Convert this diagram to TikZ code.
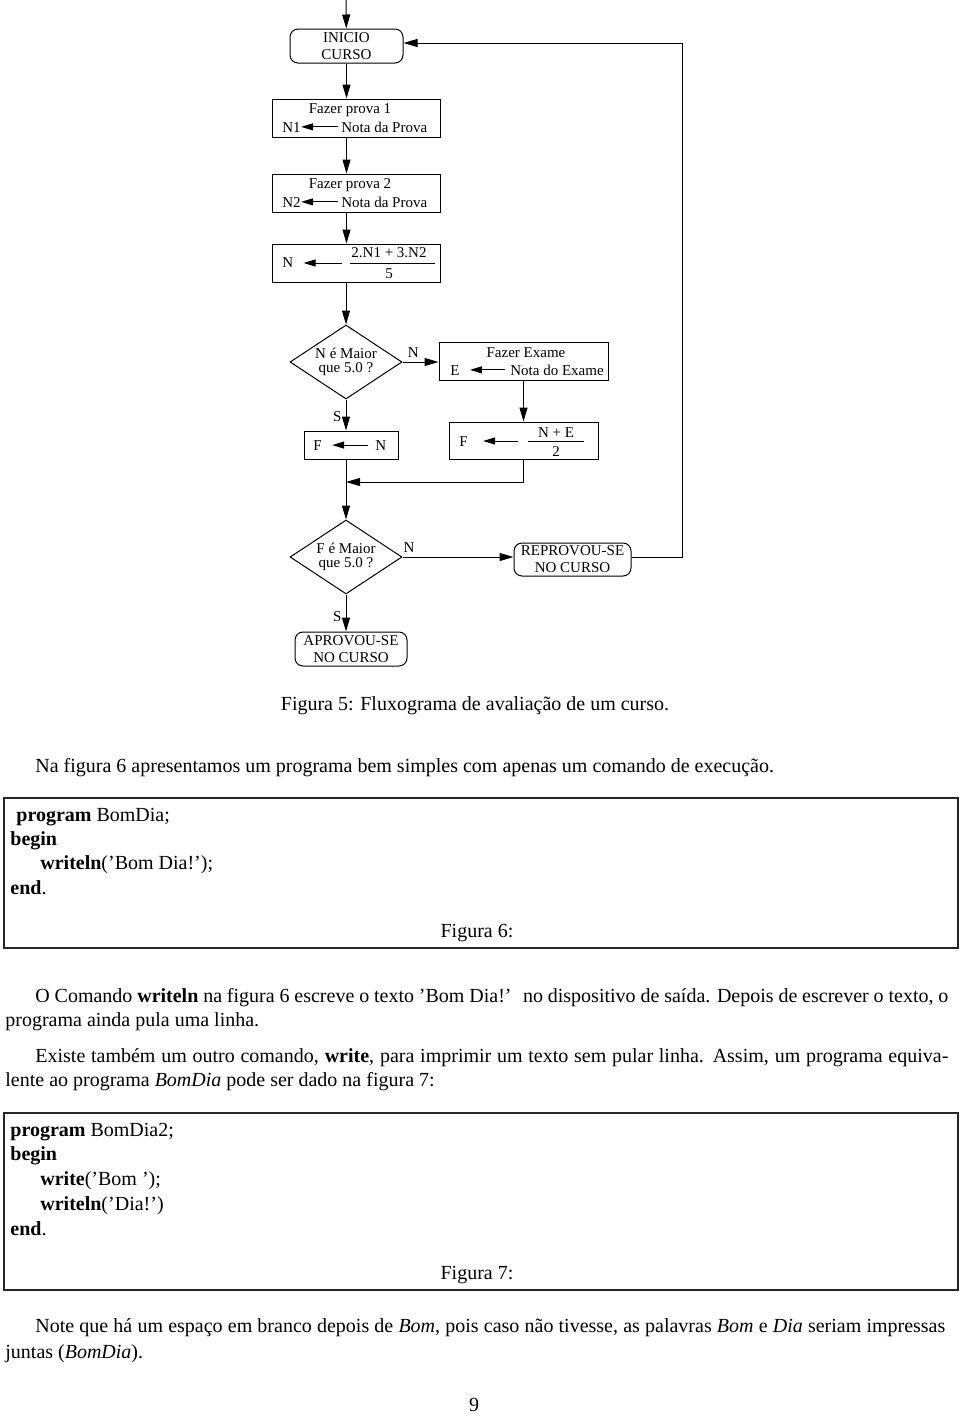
\documentclass[tikz,border=0pt]{standalone}
\usepackage{fontspec}
\setmainfont{Liberation Serif}
\usepackage{tikz}
\usetikzlibrary{positioning, arrows.meta, shapes.geometric}

\newcommand{\fluxo}{\fontsize{7.5}{8.5}\selectfont}
\newcommand{\texto}{\fontsize{10}{12}\selectfont}

\begin{document}
\begin{tikzpicture}[x=0.5pt, y=-0.5pt,
    seta/.style={-{Triangle[length=7pt,width=4pt]}, line width=0.5pt},
    setinha/.style={-{Triangle[length=6pt,width=3.5pt]}, line width=0.5pt},
    caixa/.style={draw, line width=0.5pt, inner sep=0pt},
    arred/.style={draw, line width=0.5pt, rounded corners=4pt, align=center,
      font=\fluxo, inner sep=0pt},
    decisao/.style={draw, diamond, aspect=1.5, line width=0.5pt, inner sep=0pt,
      minimum width=56pt, minimum height=37pt, align=center,
      font=\fontsize{7.5}{7.2}\selectfont},
    rotulo/.style={font=\fluxo, inner sep=0pt, anchor=base},
    linha/.style={font=\texto, inner sep=0pt, anchor=base west},
    quadro/.style={draw=black!85, line width=1pt, inner sep=0pt}]
\useasboundingbox (0,0) rectangle (960,1414);

% Fluxograma
\coordinate (topo) at (346,0);
\node[arred, minimum width=56.5pt, minimum height=17pt] (inicio) at (346.5,46) {INICIO\\CURSO};

\node[caixa, minimum width=84pt, minimum height=19pt] (prova1) at (356,118) {};
\node[rotulo] (fp1) at (350,113) {Fazer prova 1};
\node[rotulo, anchor=base west] (n1) at (282,132) {N1};
\node[rotulo, anchor=base west] (nota1) at (341,132) {Nota da Prova};
\draw[setinha, shorten <=1.5pt] (nota1.west) -- (nota1.west -| n1.east);

\node[caixa, minimum width=84pt, minimum height=19pt] (prova2) at (356,193) {};
\node[rotulo] (fp2) at (350,188) {Fazer prova 2};
\node[rotulo, anchor=base west] (n2) at (282,207) {N2};
\node[rotulo, anchor=base west] (nota2) at (341,207) {Nota da Prova};
\draw[setinha, shorten <=1.5pt] (nota2.west) -- (nota2.west -| n2.east);

\node[caixa, minimum width=84pt, minimum height=19pt] (media) at (356,263) {};
\node[rotulo, anchor=base west] (nmed) at (282,267) {N};
\node[rotulo] (num1) at (389,257) {2.N1 + 3.N2};
\node[rotulo] (den1) at (389,278) {5};
\coordinate (barra1) at (350,263);
\draw[line width=0.5pt] (barra1) -- (435,263);
\draw[setinha, shorten <=4pt, shorten >=5pt] (barra1) -- (barra1 -| nmed.east);

\node[decisao] (dec1) at (346,362) {N é Maior\\que 5.0 ?};

\node[caixa, minimum width=84.5pt, minimum height=19pt] (exame) at (523.5,361) {};
\node[rotulo] (fex) at (526,357) {Fazer Exame};
\node[rotulo, anchor=base west] (ee) at (450,375) {E};
\node[rotulo, anchor=base west] (notaex) at (510,375) {Nota do Exame};
\draw[setinha, shorten <=2.5pt, shorten >=5pt] (notaex.west) -- (notaex.west -| ee.east);

\node[caixa, minimum width=74.5pt, minimum height=18.5pt] (final) at (523.5,440.5) {};
\node[rotulo, anchor=base west] (ff) at (459,446) {F};
\node[rotulo] (num2) at (556,437) {N + E};
\node[rotulo] (den2) at (556,456) {2};
\coordinate (barra2) at (528,441);
\draw[line width=0.5pt] (barra2) -- (584,441);
\draw[setinha, shorten <=5pt, shorten >=7.5pt] (barra2) -- (barra2 -| ff.east);

\node[caixa, minimum width=47pt, minimum height=14pt] (copia) at (351,445) {};
\node[rotulo, anchor=base west] (fc) at (313,450) {F};
\node[rotulo, anchor=base west] (nc) at (375,450) {N};
\draw[setinha, shorten <=3.5pt, shorten >=5pt] (nc.west) -- (nc.west -| fc.east);

\node[decisao] (dec2) at (346,557) {F é Maior\\que 5.0 ?};

\node[arred, minimum width=58.5pt, minimum height=16.5pt] (reprovou) at (572.5,559.5) {REPROVOU-SE\\NO CURSO};
\node[arred, minimum width=56pt, minimum height=17pt] (aprovou) at (351,649) {APROVOU-SE\\NO CURSO};
\coordinate (junta) at (346,482);

% Ligacoes
\draw[seta] (topo) -- (inicio);
\draw[seta] (inicio) -- (prova1.north -| inicio);
\draw[seta] (prova1.south -| inicio) -- (prova2.north -| inicio);
\draw[seta] (prova2.south -| inicio) -- (media.north -| inicio);
\draw[seta] (media.south -| dec1) -- (dec1);
\draw[seta] (dec1) -- node[rotulo, pos=0.3, above=2pt] {N} (exame.west |- dec1);
\draw[seta] (dec1) -- node[rotulo, pos=0.55, left=2pt] {S} (copia.north -| dec1);
\draw[seta] (exame.south) -- (final.north);
\draw[seta] (copia.south -| dec2) -- (dec2);
\draw[seta] (final.south) |- (junta);
\draw[seta] (dec2) -- node[rotulo, pos=0.06, above=2pt] {N} (reprovou.west |- dec2);
\draw[seta] (dec2) -- node[rotulo, pos=0.6, left=2pt] {S} (aprovou.north -| dec2);
\draw[seta] (reprovou.east |- dec2) -- ++(51,0) |- ([yshift=1.5pt]inicio.east);

\node[font=\texto, inner sep=0pt, anchor=base] (leg5) at (475,710) {Figura 5: Fluxograma de avaliação de um curso.};

% Texto
\node[linha] (p1) at (35,772) {Na figura 6 apresentamos um programa bem simples com apenas um comando de execução.};

\node[quadro, minimum width=477pt, minimum height=75pt] (fig6) at (481,873) {};
\node[linha] (c1) at (16,821) {\textbf{program} BomDia;};
\node[linha] (c2) at (10,845) {\textbf{begin}};
\node[linha] (c3) at (40,869.5) {\textbf{writeln}('Bom Dia!');};
\node[linha] (c4) at (10,894) {\textbf{end}.};
\node[font=\texto, inner sep=0pt, anchor=base] (leg6) at (477,937) {Figura 6:};

\node[linha] (p2) at (35,1002) {\makebox[456.5pt][s]{O Comando \textbf{writeln} na figura 6 escreve o texto 'Bom Dia!' \ no dispositivo de saída. Depois de escrever o texto, o}};
\node[linha] (p3) at (5,1026) {programa ainda pula uma linha.};
\node[linha] (p4) at (35,1062) {\makebox[456.5pt][s]{Existe também um outro comando, \textbf{write}, para imprimir um texto sem pular linha. Assim, um programa equiva-}};
\node[linha] (p5) at (5,1086) {lente ao programa \textit{BomDia} pode ser dado na figura 7:};

\node[quadro, minimum width=477pt, minimum height=88.5pt] (fig7) at (481,1201.5) {};
\node[linha] (d1) at (10,1136) {\textbf{program} BomDia2;};
\node[linha] (d2) at (10,1160.5) {\textbf{begin}};
\node[linha] (d3) at (40,1185) {\textbf{write}('Bom ');};
\node[linha] (d4) at (40,1210) {\textbf{writeln}('Dia!')};
\node[linha] (d5) at (10,1235) {\textbf{end}.};
\node[font=\texto, inner sep=0pt, anchor=base] (leg7) at (477,1279) {Figura 7:};

\node[linha] (p6) at (35,1332) {\makebox[455pt][s]{Note que há um espaço em branco depois de \textit{Bom}, pois caso não tivesse, as palavras \textit{Bom} e \textit{Dia} seriam impressas}};
\node[linha] (p7) at (5,1358) {juntas (\textit{BomDia}).};

\node[font=\texto, inner sep=0pt, anchor=base] (pag) at (474,1411) {9};
\end{tikzpicture}
\end{document}
